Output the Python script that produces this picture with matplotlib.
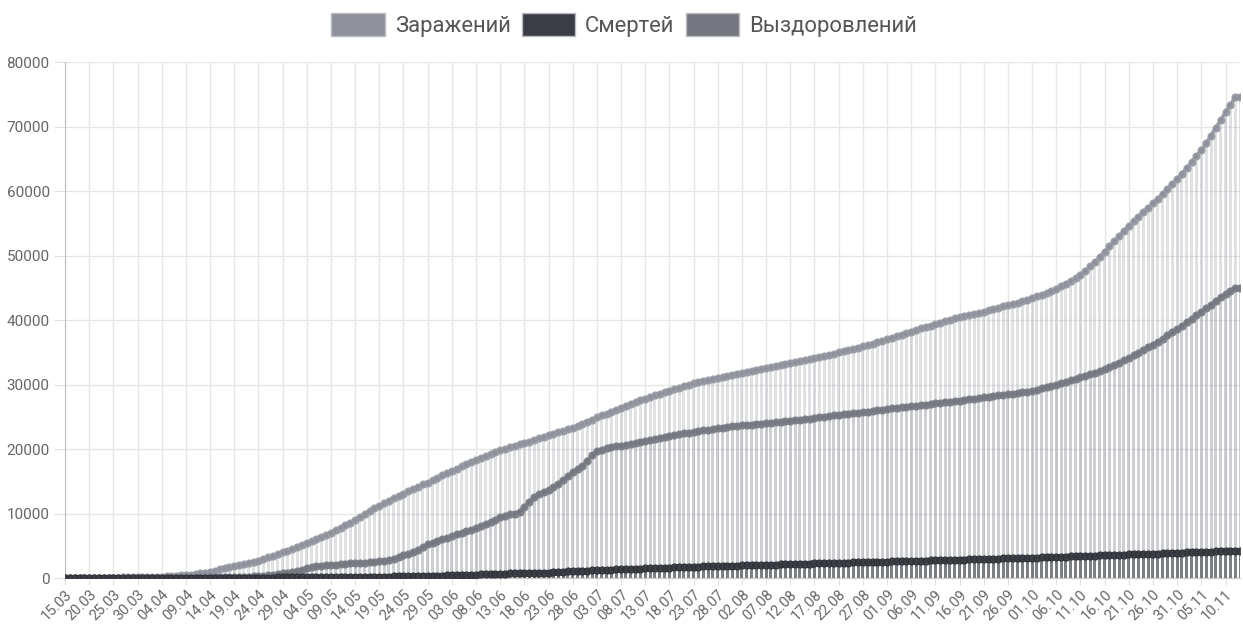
import matplotlib
matplotlib.use("Agg")
import matplotlib.pyplot as plt
from matplotlib.patches import Patch
import pandas as pd

# -------------------------------------------------------------
# Data (daily, 15.03 .. 13.11)
# -------------------------------------------------------------
start_date = "2020-03-15"

infected = [
    3, 4, 6, 10, 14, 20, 26, 33, 41, 50,
    60, 70, 81, 93, 106, 120, 138, 160, 182, 205,
    230, 265, 305, 350, 400, 450, 530, 620, 720, 830,
    950, 1150, 1400, 1600, 1700, 1800, 1950, 2150, 2350, 2550,
    2700, 2950, 3200, 3450, 3700, 4000, 4250, 4550, 4850, 5150,
    5400, 5700, 6000, 6300, 6650, 7000, 7400, 7800, 8200, 8600,
    9000, 9500, 9950, 10400, 10800, 11200, 11600, 12000, 12400, 12750,
    13100, 13450, 13800, 14150, 14500, 14800, 15150, 15500, 15900, 16250,
    16600, 16950, 17300, 17650, 18000, 18300, 18600, 18900, 19200, 19500,
    19800, 20050, 20250, 20500, 20700, 20900, 21150, 21400, 21650, 21900,
    22100, 22350, 22600, 22850, 23050, 23300, 23600, 23900, 24250, 24550,
    24900, 25200, 25500, 25800, 26100, 26400, 26700, 27000, 27300, 27550,
    27800, 28050, 28300, 28550, 28800, 29000, 29250, 29500, 29750, 30000,
    30200, 30350, 30500, 30700, 30850, 31000, 31150, 31300, 31500, 31650,
    31800, 31950, 32100, 32250, 32350, 32500, 32650, 32800, 32950, 33150,
    33300, 33450, 33600, 33800, 33950, 34100, 34300, 34450, 34650, 34800,
    35000, 35200, 35350, 35550, 35700, 35900, 36100, 36350, 36550, 36800,
    37000, 37250, 37500, 37750, 37950, 38200, 38450, 38700, 38950, 39150,
    39400, 39600, 39850, 40050, 40300, 40500, 40650, 40800, 40950, 41150,
    41300, 41500, 41700, 41900, 42100, 42300, 42500, 42700, 42950, 43150,
    43400, 43650, 43900, 44200, 44500, 44800, 45200, 45600, 46050, 46500,
    47000, 47600, 48300, 49000, 49800, 50600, 51400, 52200, 53000, 53800,
    54600, 55300, 56000, 56700, 57400, 58100, 58800, 59600, 60300, 61100,
    61900, 62700, 63600, 64500, 65400, 66300, 67400, 68600, 69800, 71000,
    72200, 73400, 74500, 74500,
]

deaths = [
    0, 0, 0, 0, 0, 0, 0, 0, 1, 1,
    1, 2, 2, 3, 3, 4, 4, 5, 6, 7,
    8, 9, 10, 12, 14, 15, 17, 19, 21, 23,
    25, 28, 31, 34, 37, 40, 43, 47, 51, 55,
    60, 65, 70, 75, 80, 85, 90, 95, 100, 105,
    110, 115, 120, 125, 130, 140, 145, 150, 160, 165,
    170, 180, 190, 200, 210, 215, 225, 230, 240, 245,
    250, 265, 280, 300, 320, 340, 355, 370, 385, 395,
    400, 430, 460, 490, 520, 540, 560, 575, 590, 600,
    600, 650, 700, 730, 760, 780, 800, 820, 835, 850,
    850, 900, 950, 1000, 1040, 1070, 1100, 1130, 1160, 1180,
    1200, 1230, 1260, 1290, 1320, 1350, 1380, 1410, 1440, 1470,
    1500, 1530, 1560, 1580, 1600, 1620, 1650, 1680, 1700, 1720,
    1750, 1770, 1790, 1810, 1830, 1850, 1870, 1890, 1910, 1930,
    1950, 1970, 1990, 2010, 2030, 2050, 2070, 2090, 2110, 2130,
    2150, 2170, 2190, 2210, 2230, 2250, 2270, 2290, 2310, 2330,
    2350, 2370, 2390, 2410, 2430, 2450, 2470, 2490, 2510, 2530,
    2550, 2570, 2590, 2610, 2630, 2650, 2670, 2690, 2710, 2730,
    2750, 2770, 2790, 2810, 2830, 2850, 2870, 2890, 2910, 2930,
    2950, 2970, 2990, 3010, 3030, 3050, 3070, 3090, 3110, 3130,
    3150, 3180, 3200, 3230, 3250, 3280, 3300, 3330, 3350, 3380,
    3400, 3430, 3450, 3480, 3500, 3530, 3550, 3580, 3600, 3630,
    3650, 3680, 3700, 3730, 3750, 3780, 3800, 3830, 3850, 3880,
    3900, 3930, 3960, 3990, 4020, 4050, 4080, 4110, 4140, 4170,
    4200, 4230, 4250, 4250,
]

recovered = [
    0, 0, 0, 0, 0, 0, 0, 0, 0, 0,
    0, 1, 1, 2, 3, 4, 5, 6, 8, 10,
    12, 14, 17, 20, 25, 30, 35, 40, 50, 60,
    80, 90, 100, 120, 135, 150, 170, 200, 230, 260,
    300, 340, 390, 450, 550, 700, 800, 950, 1100, 1300,
    1600, 1700, 1800, 1900, 1950, 2000, 2050, 2100, 2150, 2250,
    2300, 2350, 2400, 2450, 2500, 2600, 2700, 2850, 3000, 3250,
    3500, 3700, 4000, 4400, 4800, 5200, 5500, 5800, 6000, 6250,
    6500, 6750, 7000, 7250, 7500, 7700, 8000, 8350, 8700, 9050,
    9400, 9650, 9850, 10000, 10300, 11000, 11800, 12500, 13000, 13300,
    13700, 14100, 14600, 15200, 15800, 16500, 16900, 17300, 18200, 19000,
    19700, 19900, 20100, 20250, 20400, 20500, 20650, 20800, 20950, 21150,
    21300, 21450, 21600, 21750, 21850, 22000, 22150, 22300, 22450, 22550,
    22700, 22800, 22900, 23000, 23100, 23200, 23300, 23400, 23500, 23600,
    23700, 23750, 23800, 23900, 23950, 24000, 24100, 24150, 24250, 24300,
    24400, 24500, 24550, 24650, 24700, 24800, 24900, 25000, 25100, 25200,
    25300, 25400, 25450, 25550, 25600, 25700, 25800, 25900, 26000, 26100,
    26200, 26300, 26400, 26450, 26550, 26600, 26700, 26800, 26900, 27000,
    27100, 27200, 27300, 27350, 27450, 27500, 27600, 27700, 27800, 27900,
    28000, 28100, 28200, 28300, 28400, 28500, 28600, 28700, 28800, 28900,
    29000, 29200, 29400, 29600, 29800, 30000, 30200, 30400, 30650, 30850,
    31100, 31350, 31600, 31850, 32100, 32400, 32700, 33000, 33400, 33750,
    34100, 34500, 34900, 35350, 35800, 36200, 36650, 37100, 37600, 38100,
    38600, 39100, 39650, 40200, 40750, 41300, 41850, 42400, 42950, 43500,
    44000, 44500, 45000, 45000,
]

labels = pd.date_range(start_date, periods=len(infected), freq="D").strftime("%d.%m").tolist()

# name, values, colour, point edge, bar alpha
series = [
    ("Заражений", infected, "#8e919b", "#9a9da6", 0.27),
    ("Смертей", deaths, "#3a3d43", "#2c2f34", 0.55),
    ("Выздоровлений", recovered, "#74777f", "#7c7f88", 0.16),
]
draw_order = [series[0], series[2], series[1]]

# -------------------------------------------------------------
# Figure
# -------------------------------------------------------------
fig = plt.figure(figsize=(12.43, 6.24), dpi=100)
ax = fig.add_axes([0.0523, 0.0737, 0.9453, 0.8269])

x = list(range(len(infected)))

# bars (overlapping, semi-transparent)
for name, vals, col, edge, a in draw_order:
    ax.bar(x, vals, width=0.62, color=col, alpha=a, linewidth=0, zorder=2)

# lines with round points
for name, vals, col, edge, a in draw_order:
    ax.plot(x, vals, color=col, linewidth=2.6, marker="o", markersize=5,
            markerfacecolor=col, markeredgecolor=edge, markeredgewidth=0.9,
            alpha=0.9, zorder=4)

ax.set_xlim(0, len(infected) - 1)
ax.set_ylim(0, 80000)
ax.set_yticks(range(0, 80001, 10000))

tick_pos = x[::5]
ax.set_xticks(tick_pos)
ax.set_xticklabels([labels[i] for i in tick_pos], rotation=45, ha="right",
                   rotation_mode="anchor", fontsize=10.5, color="#666666",
                   family="Roboto")
for t in ax.get_yticklabels():
    t.set_fontsize(11)
    t.set_color("#666666")
    t.set_family("Roboto")

ax.grid(True, color="#e6e6e6", linewidth=1, zorder=0)
ax.set_axisbelow(True)
ax.tick_params(axis="y", length=8, color="#e2e2e2", pad=3)
ax.tick_params(axis="x", length=5, color="#e2e2e2", pad=2)
for s in ["top", "right"]:
    ax.spines[s].set_visible(False)
ax.spines["left"].set_color("#bdbdbd")
ax.spines["bottom"].set_color("#c8c8c8")

# legend
handles = [Patch(facecolor=c, edgecolor="#b9bbc0", linewidth=1, label=n)
           for n, v, c, e, a in series]
fig.legend(handles=handles, loc="center", bbox_to_anchor=(0.502, 0.96),
           ncol=3, frameon=False, handlelength=2.45,
           handleheight=1.2, handletextpad=0.45, columnspacing=0.5,
           prop={"family": "Roboto", "size": 15.8}, labelcolor="#555555")

fig.savefig("out.png", dpi=100)
